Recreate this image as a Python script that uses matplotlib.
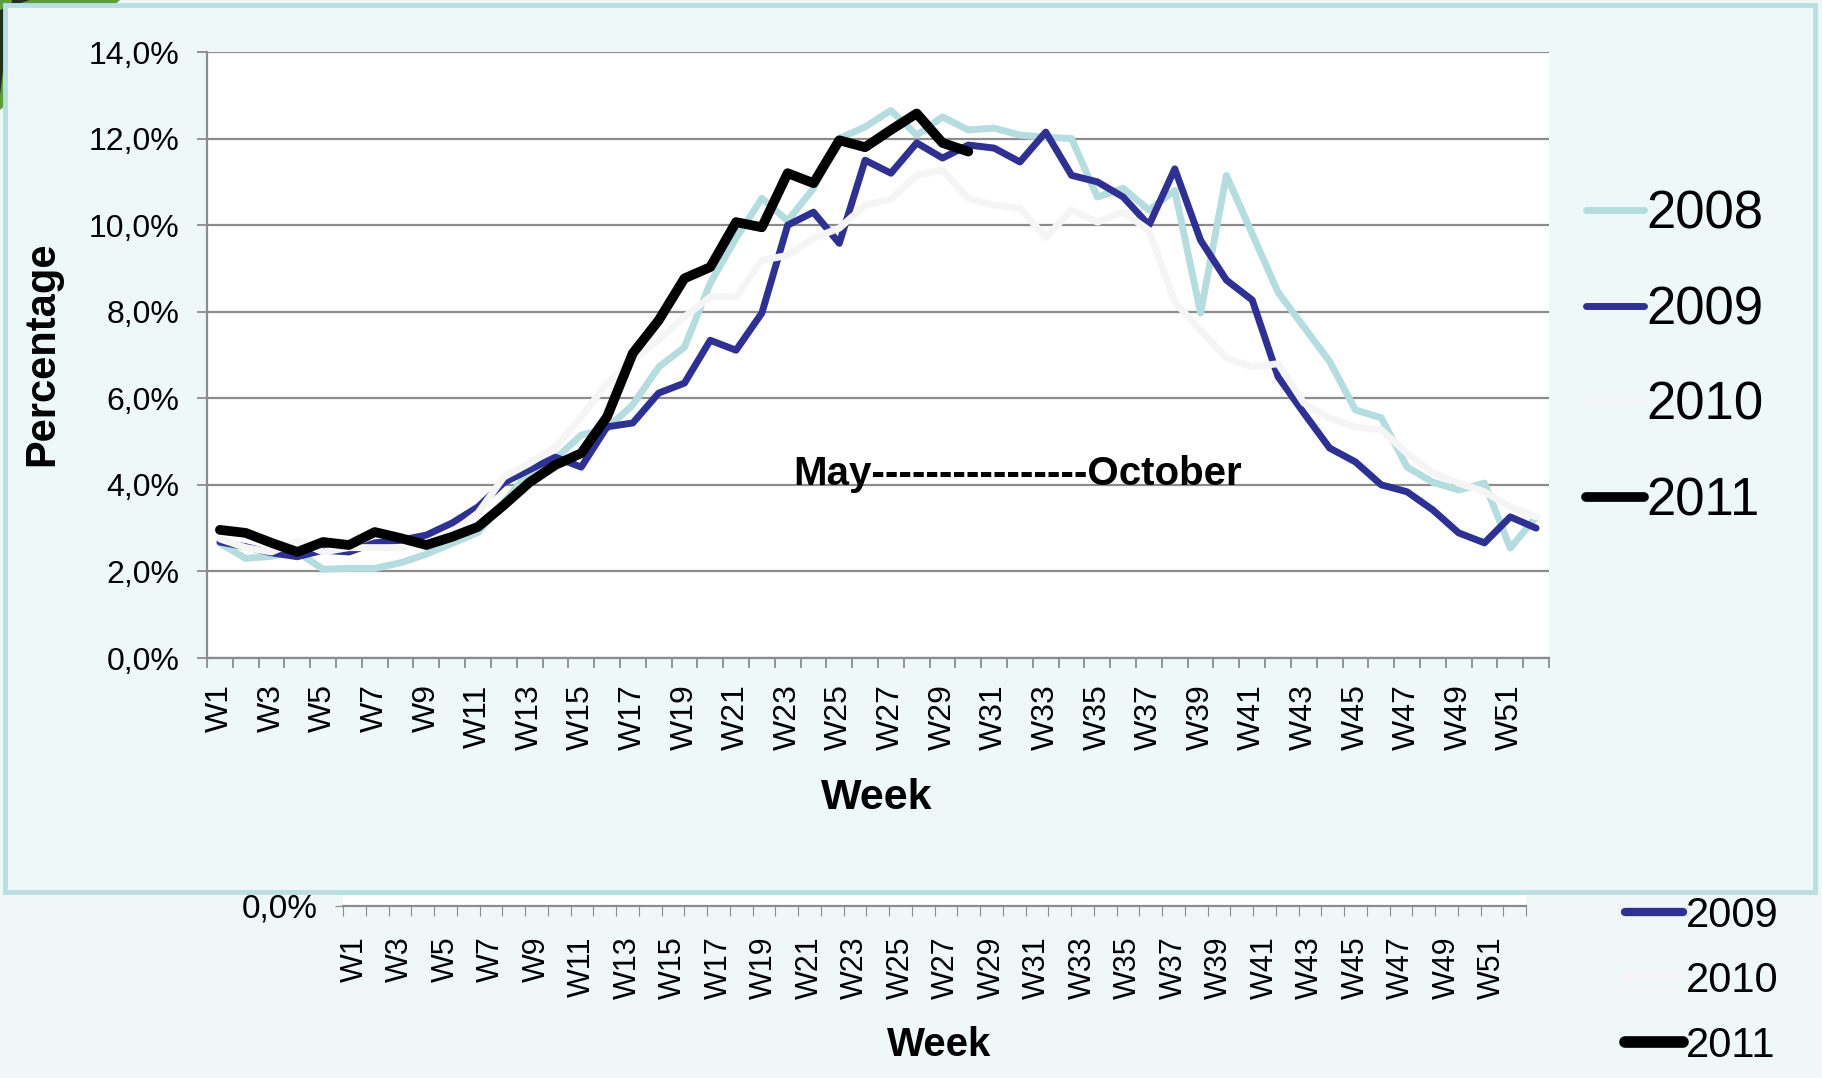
import numpy as np
import matplotlib
matplotlib.use("Agg")
import matplotlib.pyplot as plt
from matplotlib.lines import Line2D
from matplotlib.patches import Rectangle, Polygon

plt.rcParams["font.family"] = ["Liberation Sans", "DejaVu Sans"]

# 週別資料 (百分比)
weeks = [f"W{i}" for i in range(1, 53)]

y2008 = [2.65, 2.30, 2.35, 2.45, 2.05, 2.07, 2.07, 2.20, 2.40, 2.65,
         2.90, 3.60, 4.30, 4.60, 5.15, 5.30, 5.85, 6.72, 7.18, 8.66,
         9.70, 10.62, 10.10, 10.85, 12.00, 12.27, 12.65, 12.08, 12.50, 12.20,
         12.24, 12.08, 12.03, 12.00, 10.65, 10.85, 10.35, 10.80, 7.97, 11.15,
         9.80, 8.45, 7.65, 6.85, 5.73, 5.55, 4.41, 4.06, 3.88, 4.04,
         2.54, 3.26]

y2009 = [2.68, 2.57, 2.43, 2.34, 2.49, 2.45, 2.66, 2.72, 2.84, 3.12,
         3.49, 4.05, 4.35, 4.64, 4.41, 5.34, 5.43, 6.12, 6.35, 7.34,
         7.11, 7.97, 10.00, 10.30, 9.58, 11.50, 11.20, 11.90, 11.55, 11.85,
         11.78, 11.46, 12.15, 11.15, 11.00, 10.65, 10.00, 11.30, 9.65, 8.73,
         8.27, 6.50, 5.66, 4.85, 4.53, 4.00, 3.84, 3.42, 2.89, 2.66,
         3.26, 3.00]

y2010 = [2.75, 2.55, 2.45, 2.70, 2.45, 2.55, 2.55, 2.55, 2.65, 2.90,
         3.35, 4.18, 4.50, 4.87, 5.57, 6.35, 6.88, 7.34, 7.88, 8.34,
         8.34, 9.19, 9.30, 9.70, 9.93, 10.46, 10.60, 11.15, 11.27, 10.62,
         10.46, 10.39, 9.72, 10.35, 10.07, 10.30, 9.88, 8.22, 7.57, 6.93,
         6.72, 6.80, 5.89, 5.54, 5.34, 5.27, 4.73, 4.27, 4.04, 3.84,
         3.49, 3.26]

y2011 = [2.96, 2.89, 2.66, 2.45, 2.68, 2.61, 2.91, 2.77, 2.61, 2.80,
         3.03, 3.53, 4.06, 4.46, 4.73, 5.57, 7.04, 7.80, 8.77, 9.03,
         10.07, 9.95, 11.20, 10.97, 11.96, 11.80, 12.20, 12.58, 11.90, 11.70]

series_labels = ["2008", "2009", "2010", "2011"]
series_colors = ["#B5DDE0", "#2E3192", "#F5F5F5", "#000000"]
series_widths = [5.0, 5.0, 5.0, 7.0]

y_ticks = [0, 2, 4, 6, 8, 10, 12, 14]

W, H = 1822, 1078
BG = "#F0F8F7"
GRID = "#8C8C8C"


def fx(px):
    return px / W


def fy(py):
    return 1 - py / H


def pct(v):
    return f"{v:.1f}%".replace(".", ",")


fig = plt.figure(figsize=(W / 100, H / 100), dpi=100, facecolor=BG)

# 背景投影片殘影 (左上角)
fig.patches.append(Polygon([(0, 1), (fx(120), 1), (0, fy(110))], closed=True,
                           transform=fig.transFigure, facecolor="#5E9E3A",
                           edgecolor="none", zorder=-3))
fig.patches.append(Polygon([(0, fy(10)), (fx(30), 1), (fx(12), 1), (0, fy(95))],
                           closed=True, transform=fig.transFigure,
                           facecolor="#22301F", edgecolor="none", zorder=-3))

# 下方被遮住的圖表
ax2 = fig.add_axes([fx(343), fy(906), fx(1526) - fx(343), fy(893) - fy(906)],
                   zorder=-2)
ax2.set_facecolor("white")
ax2.set_xlim(-0.5, len(weeks) - 0.5)
ax2.set_ylim(0, 14)
ax2.set_yticks([0])
ax2.set_yticklabels([pct(0)], fontsize=24)
ax2.set_xticks(np.arange(-0.5, len(weeks)))
ax2.set_xticklabels([])
ax2.set_xticks(np.arange(0, len(weeks), 2), minor=True)
ax2.set_xticklabels(weeks[::2], minor=True, rotation=90, fontsize=22)
ax2.tick_params(axis="x", which="major", length=7, color=GRID, direction="out")
ax2.tick_params(axis="x", which="minor", length=0, pad=22)
ax2.tick_params(axis="y", length=6, color=GRID, pad=12)
for s in ["top", "right", "left"]:
    ax2.spines[s].set_visible(False)
ax2.spines["bottom"].set_color(GRID)
ax2.spines["bottom"].set_linewidth(1.6)
ax2.set_xlabel("Week", fontsize=29, fontweight="bold")
ax2.xaxis.set_label_coords(0.504, (906 - 1026) / 13)

handles2 = [Line2D([], [], color=series_colors[i], lw=series_widths[i] * 1.2,
                   solid_capstyle="round") for i in range(1, 4)]
fig.legend(handles2, series_labels[1:], loc="center left",
           bbox_to_anchor=(fx(1625), fy(981)), frameon=False, fontsize=30,
           handlelength=1.4, handletextpad=0.05, labelspacing=0.6,
           borderpad=0, borderaxespad=0)

# 前景面板
fig.patches.append(Rectangle((fx(5), fy(892)), fx(1810), fy(5) - fy(892),
                             transform=fig.transFigure, facecolor="#EFF8F8",
                             edgecolor="#BADFE2", linewidth=3.5, zorder=-1))

# 主圖
ax = fig.add_axes([fx(207), fy(658), fx(1549) - fx(207), fy(52) - fy(658)])
ax.set_facecolor("white")
x = np.arange(len(weeks))
data = [y2008, y2009, y2010, y2011]
for vals, lab, col, lw in zip(data, series_labels, series_colors, series_widths):
    ax.plot(x[:len(vals)], vals, color=col, lw=lw, label=lab,
            solid_capstyle="round", solid_joinstyle="round")

ax.set_xlim(-0.5, len(weeks) - 0.5)
ax.set_ylim(0, 14)
ax.set_yticks(y_ticks)
ax.set_yticklabels([pct(v) for v in y_ticks], fontsize=23)
ax.yaxis.grid(True, color=GRID, lw=1.6)
ax.set_axisbelow(True)
ax.set_xticks(np.arange(-0.5, len(weeks)))
ax.set_xticklabels([])
ax.set_xticks(np.arange(0, len(weeks), 2), minor=True)
ax.set_xticklabels(weeks[::2], minor=True, rotation=90, fontsize=23)
ax.tick_params(axis="x", which="major", length=7, color=GRID, width=1.3)
ax.tick_params(axis="x", which="minor", length=0, pad=19)
ax.tick_params(axis="y", length=7, color=GRID, width=1.3, pad=13)
for s in ["top", "right"]:
    ax.spines[s].set_visible(False)
for s in ["left", "bottom"]:
    ax.spines[s].set_color(GRID)
    ax.spines[s].set_linewidth(1.6)

ax.set_xlabel("Week", fontsize=31, fontweight="bold")
ax.xaxis.set_label_coords(0.499, (658 - 778) / 606)
ax.set_ylabel("Percentage", fontsize=30, fontweight="bold")
ax.yaxis.set_label_coords((62 - 207) / 1342, 0.502)

ax.text(30.9, 4.25, "May" + "-" * 16 + "October", ha="center", va="center",
        fontsize=29, fontweight="bold")

fig.legend(loc="center left", bbox_to_anchor=(fx(1586), fy(358)),
           frameon=False, fontsize=38, handlelength=1.1, handletextpad=0.05,
           labelspacing=0.87, borderpad=0, borderaxespad=0)

fig.savefig("out.png", dpi=100, facecolor=BG)
